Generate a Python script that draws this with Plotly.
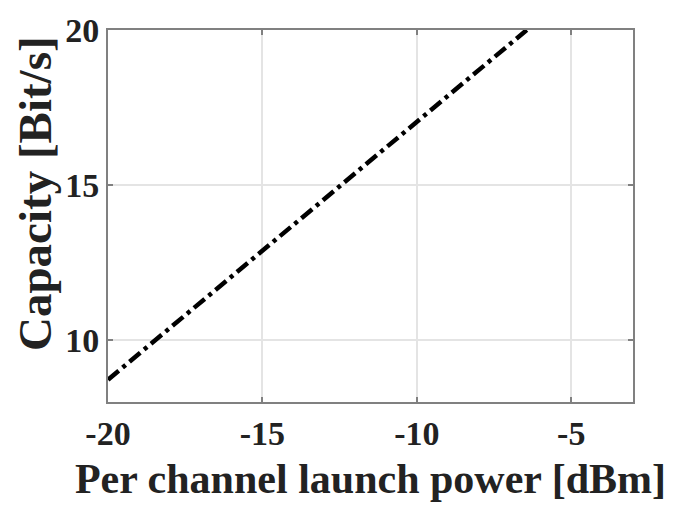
import plotly.graph_objects as go

# Capacity versus per-channel launch power
launch_power_dbm = [-20, -15, -10, -6.44]
capacity_bits = [8.72, 12.88, 17.04, 20.0]

x_ticks = [-20, -15, -10, -5]
y_ticks = [10, 15, 20]

font_family = "Liberation Serif"
axis_color = "#808080"
grid_color = "#e4e4e4"
text_color = "#222222"

fig = go.Figure()
fig.add_trace(go.Scatter(
    x=launch_power_dbm,
    y=capacity_bits,
    mode="lines",
    line=dict(color="black", width=4.5, dash="14px,5px,4px,5px"),
    showlegend=False,
))

axis_common = dict(
    showline=True,
    linecolor=axis_color,
    linewidth=2,
    mirror="ticks",
    ticks="inside",
    ticklen=5,
    tickwidth=2,
    tickcolor=axis_color,
    showgrid=True,
    gridcolor=grid_color,
    gridwidth=1.5,
    zeroline=False,
    tickfont=dict(family=font_family, size=34, color=text_color, weight="bold"),
)

fig.update_xaxes(
    range=[-20, -3],
    tickvals=x_ticks,
    ticktext=[str(v) for v in x_ticks],
    title=dict(text="<b>Per channel launch power [dBm]</b>",
               font=dict(family=font_family, size=42, color=text_color),
               standoff=13),
    **axis_common,
)
fig.update_yaxes(
    range=[8, 20],
    tickvals=y_ticks,
    ticktext=[str(v) for v in y_ticks],
    **axis_common,
)

# Vertical axis label, placed a little above the plot's mid-height
fig.add_annotation(
    text="<b>Capacity [Bit/s]</b>",
    xref="paper", yref="paper",
    x=0, y=0.5,
    xanchor="center", yanchor="middle",
    xshift=-73, yshift=22,
    textangle=-90,
    showarrow=False,
    font=dict(family=font_family, size=47, color=text_color),
)

fig.update_layout(
    width=675,
    height=506,
    margin=dict(l=108, r=42, t=25, b=103),
    paper_bgcolor="white",
    plot_bgcolor="white",
)

fig.write_html("out.html")
